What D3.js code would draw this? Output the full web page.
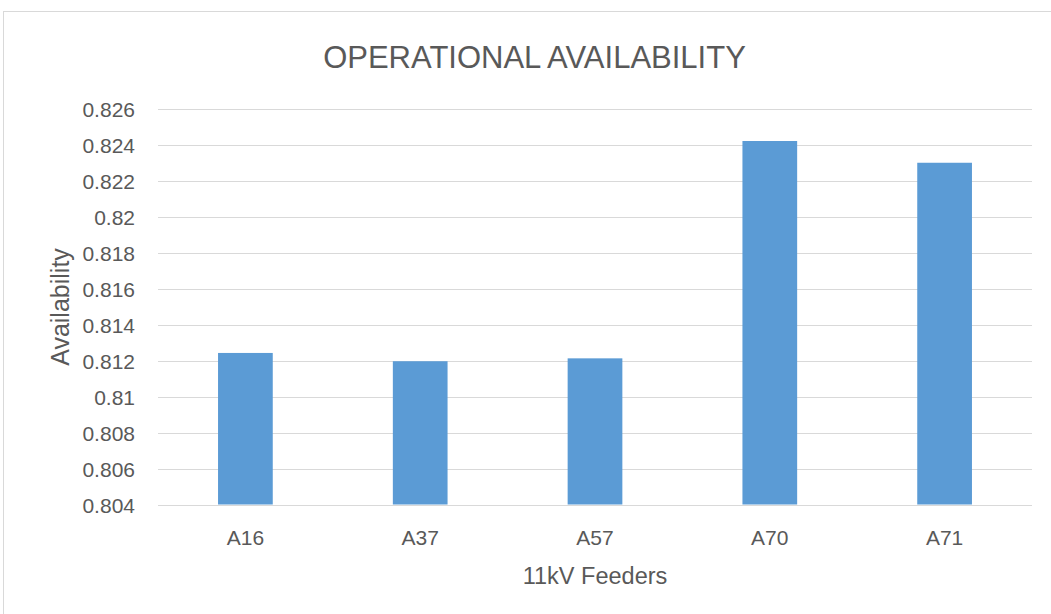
<!DOCTYPE html>
<html><head><meta charset="utf-8">
<script src="https://cdn.jsdelivr.net/npm/d3@7"></script>
<style>body{margin:0;background:#fff}svg{display:block}text{font-family:"Liberation Sans",Arial,sans-serif;fill:#595959}</style>
</head><body><svg id="c" width="1051" height="614"></svg>
<script>
const categories = ["A16","A37","A57","A70","A71"];
const values = [0.81243, 0.81197, 0.81213, 0.82422, 0.82301];
const yTicks = [0.804,0.806,0.808,0.81,0.812,0.814,0.816,0.818,0.82,0.822,0.824,0.826];
const yTickLabels = ["0.804","0.806","0.808","0.81","0.812","0.814","0.816","0.818","0.82","0.822","0.824","0.826"];
const title = "OPERATIONAL AVAILABILITY";
const xTitle = "11kV Feeders";
const yTitle = "Availability";

const svg = d3.select("#c");
const L=158,R=1032,T=109,B=504.5;
svg.append("rect").attr("x",3.5).attr("y",11.5).attr("width",1100).attr("height",700)
  .attr("fill","#fff").attr("stroke","#D9D9D9").attr("stroke-width",1);

const x = d3.scaleBand().domain(categories).range([L,R]).paddingInner(0.687).paddingOuter(0.3435);
const y = d3.scaleLinear().domain([0.804,0.826]).range([B,T]);

const grid = svg.append("g");
grid.selectAll("line").data(yTicks).join("line")
  .attr("x1",L).attr("x2",R).attr("y1",d=>Math.round(y(d))+0.5).attr("y2",d=>Math.round(y(d))+0.5)
  .attr("stroke","#D9D9D9").attr("stroke-width",1);

svg.append("g").selectAll("rect").data(values).join("rect")
  .attr("x",(d,i)=>x(categories[i])).attr("width",x.bandwidth())
  .attr("y",d=>y(d)).attr("height",d=>B-y(d)).attr("fill","#5B9BD5");

svg.append("line").attr("x1",L).attr("x2",R).attr("y1",Math.round(y(0.804))+0.5).attr("y2",Math.round(y(0.804))+0.5)
  .attr("stroke","#D9D9D9").attr("stroke-width",1);

const yAxis = d3.axisLeft(y).tickValues(yTicks).tickFormat((d,i)=>yTickLabels[i]).tickSize(0).tickPadding(0);
const ya = svg.append("g").attr("transform",`translate(135,0)`).call(yAxis);
ya.select(".domain").remove();
ya.selectAll("text").attr("font-size",21).attr("font-family","Liberation Sans").attr("fill","#595959").attr("dy","0.36em");

const xAxis = d3.axisBottom(x).tickSize(0).tickPadding(0);
const xa = svg.append("g").attr("transform",`translate(0,545)`).call(xAxis);
xa.select(".domain").remove();
xa.selectAll("text").attr("font-size",21).attr("font-family","Liberation Sans").attr("fill","#595959").attr("dy","0");

svg.append("text").attr("x",534.5).attr("y",68).attr("text-anchor","middle").attr("font-size",31).text(title);
svg.append("text").attr("x",(L+R)/2).attr("y",584).attr("text-anchor","middle").attr("font-size",23.5).text(xTitle);
svg.append("text").attr("transform","translate(69,307) rotate(-90)").attr("text-anchor","middle").attr("font-size",25).text(yTitle);
</script></body></html>
